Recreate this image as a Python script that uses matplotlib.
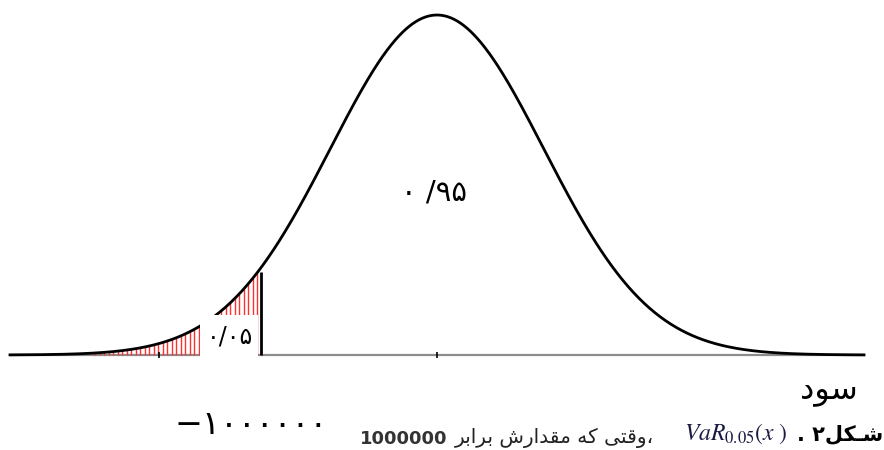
"""Normal profit curve with the 5% VaR tail hatched (figure 2)."""

import numpy as np
from matplotlib import pyplot as plt
from matplotlib.patches import Rectangle

W, H = 884, 450

# distribution, in standard-deviation units
X_MIN, X_MAX = -4.0, 4.0
VAR_Z = -1.645
TAIL_START = -3.2
TICK_Z = [-2.6, 0.0]

# labels; persian text is written in visual order with presentation forms
BODY_LABEL = "۰ /۹۵"
TAIL_LABEL = "۰/۰۵"
PROFIT_LABEL = "\uFEA9\uFEEE\uFEB3"  # سود
VAR_LABEL = "−۱۰۰۰۰۰۰"
CAPTION_NUMBER = "1000000"
CAPTION_WORDS = (
    "\uFEAE\uFE91\uFE8D\uFEAE\uFE91 "  # برابر
    "\uFEB5\uFEAD\uFE8D\uFEAA\uFED8\uFEE3 "  # مقدارش
    "\uFEEA\uFB90 "  # که
    "\uFBFD\uFE98\uFED7\uFEED\u060C"  # وقتی،
)
CAPTION_VAR = r"$VaR_{0.05}(x\ )$"
CAPTION_FIG = ". ۲\uFEDE\uFB91\u0640\uFEB7"  # شکل۲.

plt.rcParams["font.family"] = ["DejaVu Sans"]
plt.rcParams["mathtext.fontset"] = "stix"


def pdf(z):
    """Standard normal density."""
    return np.exp(-0.5 * z**2) / np.sqrt(2 * np.pi)


def fig_xy(x, y):
    """Pixel position (from top left) to figure fraction."""
    return x / W, 1 - y / H


fig = plt.figure(figsize=(W / 100, H / 100), dpi=100)
ax = fig.add_axes([0, 0, 1, 1])
ax.set_axis_off()

# map the curve onto the picture: -4 -> px 10, +4 -> px 864, base px 355, top px 15
xscale = (864 - 10) / (X_MAX - X_MIN)
peak = pdf(0.0)
yscale = peak / (355 - 15)
ax.set_xlim(X_MIN - 10 / xscale, X_MAX + (W - 864) / xscale)
ax.set_ylim(-(H - 355) * yscale, peak + 15 * yscale)


def to_data(px, py):
    """Pixel position to data coordinates."""
    return X_MIN + (px - 10) / xscale, (355 - py) * yscale


z = np.linspace(X_MIN, X_MAX, 801)
ax.plot([X_MIN, X_MAX], [0, 0], color="#8c8c8c", lw=1.6, zorder=1)
ax.plot(z, pdf(z), color="black", lw=2.0, zorder=2)

# red hatching of the left tail
hatch_x = np.arange(TAIL_START, VAR_Z, 4.5 / xscale)
ax.vlines(hatch_x, 0, pdf(hatch_x), color="#ff3030", lw=1.0, zorder=1.5)

# white patch behind the tail label
x0, y0 = to_data(200, 358)
x1, y1 = to_data(258, 315)
ax.add_patch(Rectangle((x0, y0), x1 - x0, y1 - y0, fc="white", ec="none", zorder=3))

ax.vlines([VAR_Z], 0, pdf(VAR_Z) * 0.95, color="black", lw=2.0, zorder=4)

for t in TICK_Z:
    ax.plot([t], [0], marker="|", ms=5, mew=1.2, color="black", zorder=4)

fig.text(*fig_xy(434, 192), BODY_LABEL, fontsize=21, ha="center", va="center")
fig.text(*fig_xy(253, 337), TAIL_LABEL, fontsize=17, ha="right", va="center", zorder=5)
fig.text(*fig_xy(800, 390), PROFIT_LABEL, fontsize=23, ha="left", va="center")
fig.text(*fig_xy(175, 425), VAR_LABEL, fontsize=24, ha="left", va="center")

# caption along the bottom edge
fig.text(*fig_xy(360, 444), CAPTION_NUMBER, fontsize=13, fontweight="bold",
         color="#333333", ha="left", va="baseline")
fig.text(*fig_xy(455, 443), CAPTION_WORDS, fontsize=14.5, color="#222222",
         ha="left", va="baseline")
fig.text(*fig_xy(684, 440), CAPTION_VAR, fontsize=17, color="#1a1a40",
         ha="left", va="baseline")
fig.text(*fig_xy(797, 440), CAPTION_FIG, fontsize=15, fontweight="bold",
         ha="left", va="baseline")

fig.savefig("out.png", dpi=100)
